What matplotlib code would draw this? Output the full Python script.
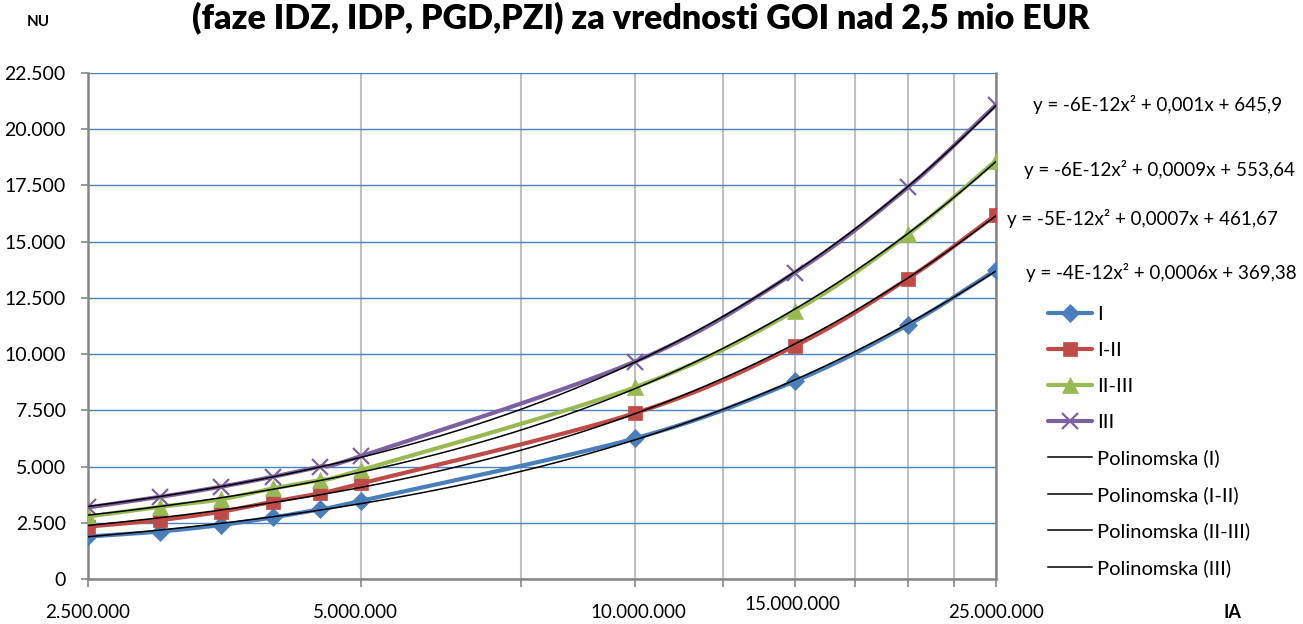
import numpy as np
import matplotlib
matplotlib.use('Agg')
import matplotlib.pyplot as plt
from matplotlib.lines import Line2D
import matplotlib.transforms as mtransforms

# ---- data ----
ia = [2.5e6, 3e6, 3.5e6, 4e6, 4.5e6, 5e6, 10e6, 15e6, 20e6, 25e6]
nu_I = [1890, 2110, 2400, 2740, 3100, 3480, 6250, 8790, 11300, 13740]
nu_I_II = [2330, 2620, 2990, 3440, 3810, 4250, 7370, 10360, 13360, 16190]
nu_II_III = [2780, 3210, 3540, 4030, 4400, 4850, 8520, 11920, 15330, 18600]
nu_III = [3180, 3650, 4100, 4550, 5000, 5470, 9660, 13620, 17420, 21080]

series_names = ['I', 'I-II', 'II-III', 'III']
trend_names = ['Polinomska (I)', 'Polinomska (I-II)', 'Polinomska (II-III)', 'Polinomska (III)']
equations = ['y = -4E-12x² + 0,0006x + 369,38',
             'y = -5E-12x² + 0,0007x + 461,67',
             'y = -6E-12x² + 0,0009x + 553,64',
             'y = -6E-12x² + 0,001x + 645,9']
y_ticks = [0, 2500, 5000, 7500, 10000, 12500, 15000, 17500, 20000, 22500]
x_labels = [(2.5e6, '2.500.000'), (5e6, '5.000.000'), (10e6, '10.000.000'),
            (15e6, '15.000.000'), (25e6, '25.000.000')]
title = '(faze IDZ, IDP, PGD,PZI) za vrednosti GOI nad 2,5 mio EUR'

# ---- style ----
colors = ['#4A7EBB', '#BE4B48', '#98B954', '#7D60A0']
markers = ['D', 's', '^', 'x']
msizes = [9, 10, 11, 11]
FONT = 'Lato'
plt.rcParams['font.family'] = [FONT, 'DejaVu Sans']

W, H = 1303, 624
fig = plt.figure(figsize=(W / 100, H / 100), dpi=100)
ax = fig.add_axes([88 / W, 45 / H, 908 / W, 506 / H])
ax.set_xscale('log')
ax.set_xlim(2.5e6, 25e6)
ax.set_ylim(0, 22500)


def catmull(xs, ys, n=30):
    lx = np.log10(np.asarray(xs, float))
    y = np.asarray(ys, float)
    P = np.column_stack([lx, y])
    P = np.vstack([2 * P[0] - P[1], P, 2 * P[-1] - P[-2]])
    out = []
    t = np.linspace(0, 1, n)[:, None]
    for i in range(1, len(P) - 2):
        p0, p1, p2, p3 = P[i - 1], P[i], P[i + 1], P[i + 2]
        seg = 0.5 * ((2 * p1) + (-p0 + p2) * t + (2 * p0 - 5 * p1 + 4 * p2 - p3) * t ** 2
                     + (-p0 + 3 * p1 - 3 * p2 + p3) * t ** 3)
        out.append(seg)
    out = np.vstack(out)
    return 10 ** out[:, 0], out[:, 1]


all_series = [nu_I, nu_I_II, nu_II_III, nu_III]
handles = []
for vals, c, m, ms, name in zip(all_series, colors, markers, msizes, series_names):
    sx, sy = catmull(ia, vals)
    ax.plot(sx, sy, color=c, lw=3.0, solid_capstyle='round', zorder=3)
    mew = 1.6 if m == 'x' else 0.5
    ax.plot(ia, vals, linestyle='none', marker=m, markersize=ms, color=c,
            markeredgecolor=c, markeredgewidth=mew, zorder=4)
    handles.append(Line2D([], [], color=c, lw=3.0, marker=m, markersize=ms,
                          markeredgewidth=mew, markeredgecolor=c,
                          solid_capstyle='round'))

xx = np.linspace(2.5e6, 25e6, 400)
for vals in all_series:
    coef = np.polyfit(ia, vals, 2)
    ax.plot(xx, np.polyval(coef, xx), color='black', lw=1.1, zorder=5)
for _ in trend_names:
    handles.append(Line2D([], [], color='black', lw=1.1))

# grid / axes
ax.set_yticks(y_ticks)
ax.set_yticklabels([f'{v:,}'.replace(',', '.') for v in y_ticks], fontsize=14)
ax.yaxis.grid(True, color='#4F81BD', lw=1.0)
minor = [2.5e6 * k for k in range(1, 11)]
ax.set_xticks([])
ax.set_xticks(minor, minor=True)
ax.xaxis.set_minor_formatter(matplotlib.ticker.NullFormatter())
ax.xaxis.grid(True, which='minor', color='#BFBFBF', lw=1.5)
ax.set_axisbelow(True)
ax.tick_params(axis='y', length=5, width=1.2, color='#868686', pad=11)
ax.tick_params(axis='x', which='minor', length=6, width=1.2, color='#868686', direction='out')
for s in ['left', 'bottom', 'right']:
    ax.spines[s].set_color('#868686')
    ax.spines[s].set_linewidth(1.8)
ax.spines['top'].set_visible(False)

# x labels (custom placed as in original)
offsets = {2.5e6: (0, -34), 5e6: (-6, -34), 10e6: (4, -33), 15e6: (-2, -26), 25e6: (0, -34)}
trans = mtransforms.blended_transform_factory(ax.transData, ax.transAxes)
for v, lab in x_labels:
    dx, dy = offsets[v]
    ax.annotate(lab, xy=(v, 0), xycoords=trans, xytext=(dx, dy), textcoords='offset pixels',
                ha='center', va='center', fontsize=13.5, annotation_clip=False)

fig.text(1232 / W, 1 - 612 / H, 'IA', ha='center', va='center', fontsize=13, fontweight='bold')
fig.text(38 / W, 1 - 22 / H, 'NU', ha='center', va='center', fontsize=11, fontweight='bold')
fig.text(641 / W, 1 - 28 / H, title, ha='center', va='baseline', fontsize=24.5, fontweight='heavy')

# equations
eq_pos = [(1026, 272), (1007, 219), (1024, 170), (1033, 105)]
for (px, py), eq in zip(eq_pos, equations):
    fig.text(px / W, 1 - py / H, eq, ha='left', va='center', fontsize=13.5)

leg = fig.legend(handles, series_names + trend_names, loc='upper left',
                 bbox_to_anchor=(1048 / W, 1 - 306 / H), frameon=False, fontsize=14.5,
                 handlelength=2.2, handletextpad=0.25, labelspacing=0.93,
                 borderpad=0, borderaxespad=0)

fig.savefig('out.png', dpi=100)
